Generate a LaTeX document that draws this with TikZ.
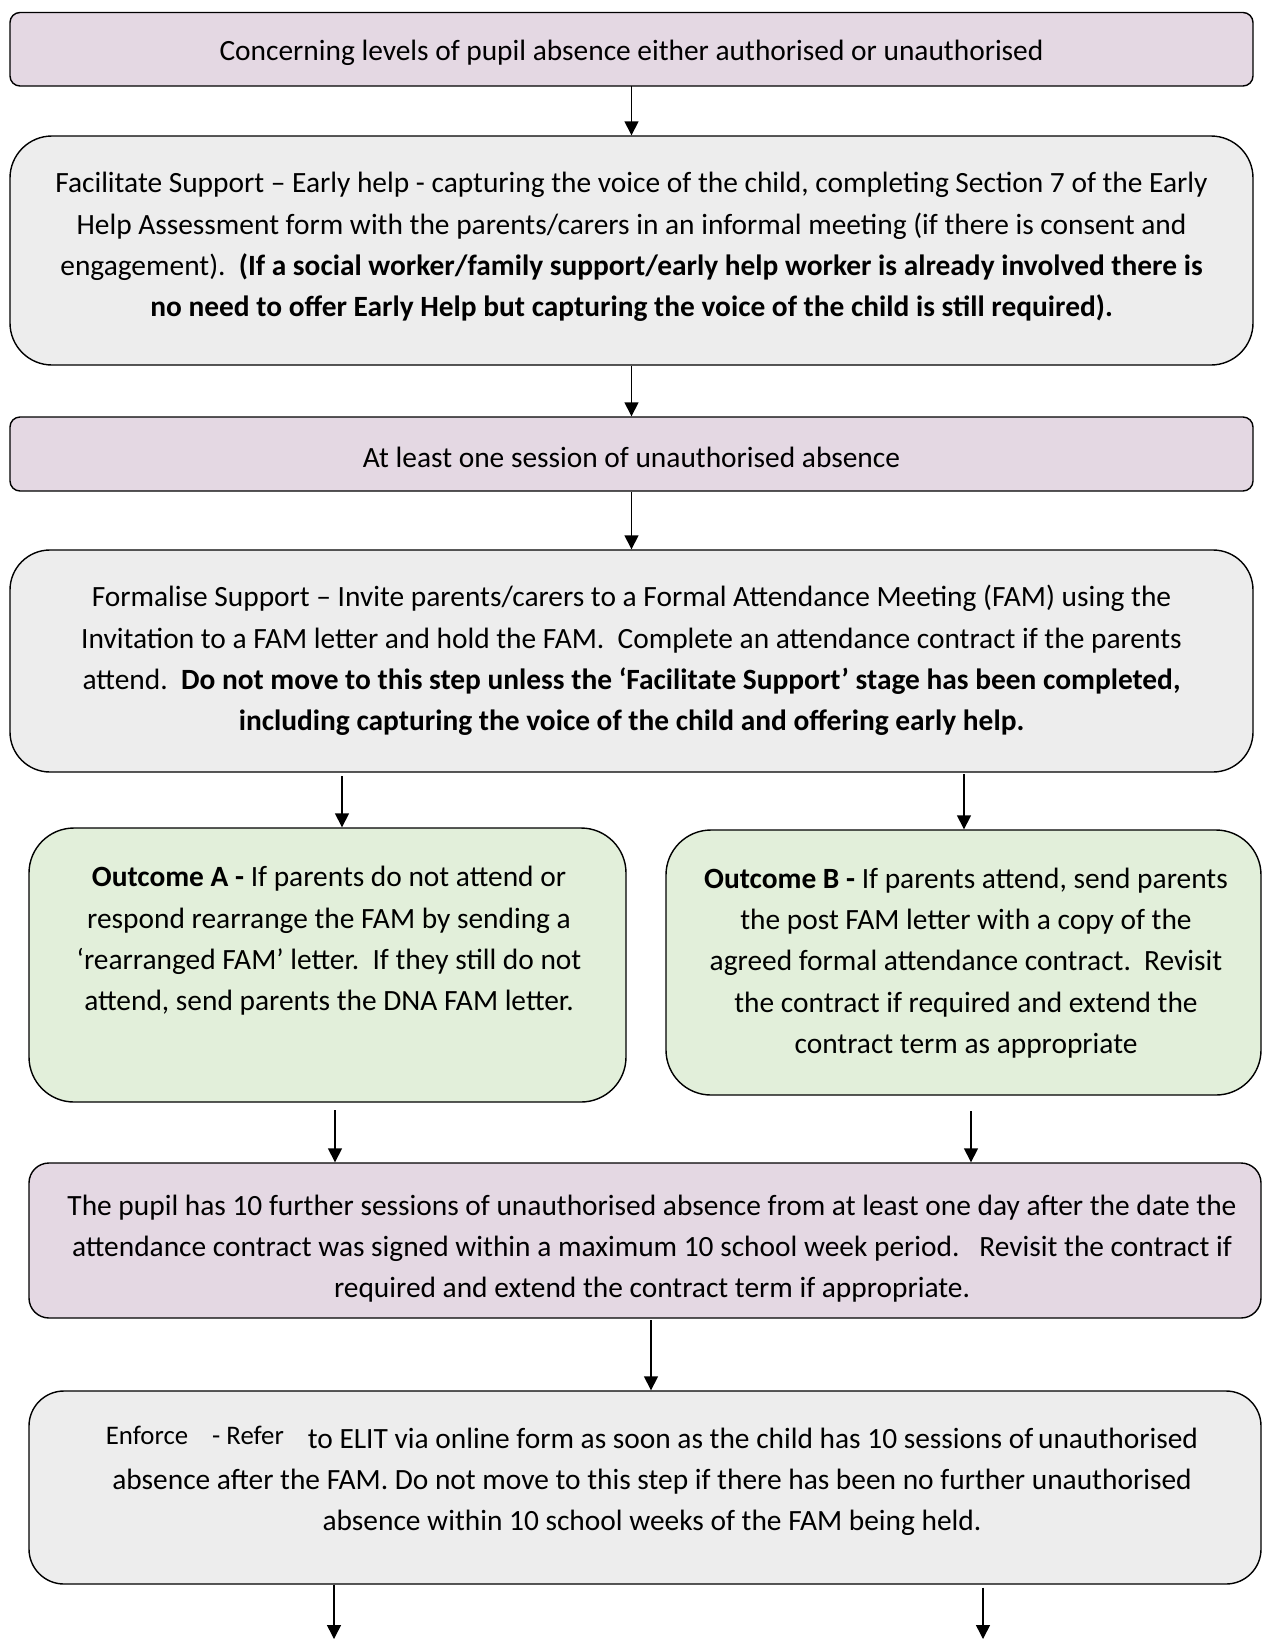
\documentclass[tikz,border=0pt]{standalone}
\usepackage{fontspec}
\setmainfont{Carlito}
\usetikzlibrary{arrows.meta}
\definecolor{mauve}{RGB}{228,216,227}
\definecolor{greyfill}{RGB}{237,237,237}
\definecolor{greenfill}{RGB}{226,239,218}
\tikzset{
  box/.style={draw=black, line width=1.4pt, inner sep=0pt},
  mbox/.style={box, fill=mauve},
  gbox/.style={box, fill=greyfill},
  obox/.style={box, fill=greenfill},
  txt/.style={inner sep=0pt, align=center, font=\fontsize{29.4}{41.3}\selectfont},
  arr/.style={line width=1.5pt, -{Triangle[length=14pt,width=14pt]}},
}
\begin{document}
\begin{tikzpicture}[x=1pt,y=-1pt]
\useasboundingbox (0,0) rectangle (1262,1639);
\fill[white] (0,0) rectangle (1262,1639);

% boxes
\node[mbox, rounded corners=10pt, minimum width=1243pt, minimum height=73.5pt] (b1) at (631.5,49.25) {};
\node[gbox, rounded corners=42pt, minimum width=1243pt, minimum height=229pt] (b2) at (631.5,250.5) {};
\node[mbox, rounded corners=10pt, minimum width=1243pt, minimum height=74pt] (b3) at (631.5,454) {};
\node[gbox, rounded corners=40pt, minimum width=1243pt, minimum height=222pt] (b4) at (631.5,661) {};
\node[obox, rounded corners=45pt, minimum width=597pt, minimum height=274pt] (b5) at (327.5,965) {};
\node[obox, rounded corners=45pt, minimum width=595pt, minimum height=265pt] (b6) at (963.5,962.5) {};
\node[mbox, rounded corners=20pt, minimum width=1232pt, minimum height=155pt] (b7) at (645,1240.5) {};
\node[gbox, rounded corners=35pt, minimum width=1232pt, minimum height=193pt] (b8) at (645,1487.5) {};

% texts
\node[txt] (t1) at (631.5,53.25)
  {Concerning levels of pupil absence either authorised or unauthorised};

\node[txt] (t2) at (631.5,247)
  {Facilitate Support -- Early help - capturing the voice of the child, completing Section 7 of the Early\\
   Help Assessment form with the parents/carers in an informal meeting (if there is consent and\\
   engagement).\ \ \textbf{(If a social worker/family support/early help worker is already involved there is}\\
   \textbf{no need to offer Early Help but capturing the voice of the child is still required).}};

\node[txt] (t3) at (631.5,457)
  {At least one session of unauthorised absence};

\node[txt] (t4) at (631.5,660.5)
  {Formalise Support -- Invite parents/carers to a Formal Attendance Meeting (FAM) using the\\
   Invitation to a FAM letter and hold the FAM.\ \ Complete an attendance contract if the parents\\
   attend.\ \ \textbf{Do not move to this step unless the ‘Facilitate Support’ stage has been completed,}\\
   \textbf{including capturing the voice of the child and offering early help.}};

\node[txt] (t5) at (329,941)
  {\textbf{Outcome A -} If parents do not attend or\\
   respond rearrange the FAM by sending a\\
   ‘rearranged FAM’ letter.\ \ If they still do not\\
   attend, send parents the DNA FAM letter.};

\node[txt] (t6) at (966,963)
  {\textbf{Outcome B -} If parents attend, send parents\\
   the post FAM letter with a copy of the\\
   agreed formal attendance contract.\ \ Revisit\\
   the contract if required and extend the\\
   contract term as appropriate};

\node[txt] (t7) at (652,1248.5)
  {The pupil has 10 further sessions of unauthorised absence from at least one day after the date the\\
   attendance contract was signed within a maximum 10 school week period.\ \ \ Revisit the contract if\\
   required and extend the contract term if appropriate.};

\node[txt] (t8) at (652,1481)
  {\raisebox{4pt}{\fontsize{26.8}{30}\selectfont Enforce\hspace{24pt}- Refer}\hspace{24pt}to ELIT via online form as soon as the child has 10 sessions of\,unauthorised\\
   absence after the FAM. Do not move to this step if there has been no further unauthorised\\
   absence within 10 school weeks of the FAM being held.};

% connectors
\coordinate (s1) at (631.5,86);
\draw[arr] (s1) -- (s1 |- b2.north);
\coordinate (s2) at (631.5,366);
\draw[arr] (s2) -- (s2 |- b3.north);
\coordinate (s3) at (631.5,492);
\draw[arr] (s3) -- (s3 |- b4.north);
\coordinate (s4a) at (342,776);
\draw[arr] (s4a) -- (s4a |- b5.north);
\coordinate (s4b) at (964,774);
\draw[arr] (s4b) -- (s4b |- b6.north);
\coordinate (s5a) at (335,1110);
\draw[arr] (s5a) -- (s5a |- b7.north);
\coordinate (s5b) at (971,1111);
\draw[arr] (s5b) -- (s5b |- b7.north);
\coordinate (s6) at (651,1320);
\draw[arr] (s6) -- (s6 |- b8.north);
\coordinate (e8a) at (334,1639);
\draw[arr] (b8.south -| e8a) -- (e8a);
\coordinate (e8b) at (983,1639);
\draw[arr] ([yshift=-3pt]b8.south -| e8b) -- (e8b);
\end{tikzpicture}
\end{document}
